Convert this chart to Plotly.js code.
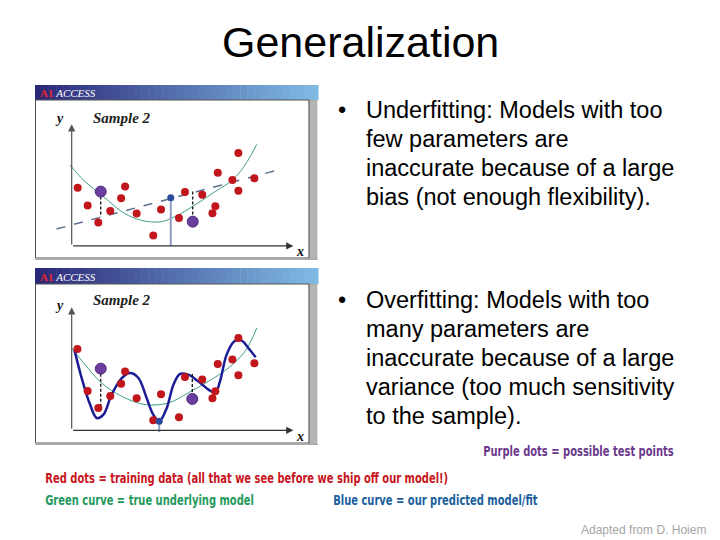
<!DOCTYPE html>
<html>
<head>
<meta charset="utf-8">
<script src="https://cdn.plot.ly/plotly-3.0.1.min.js"></script>
<style>html,body{margin:0;padding:0;background:#fff;}#chart{width:720px;height:540px;}</style>
</head>
<body>
<div id="chart"></div>
<script>
// ---------- DATA (axis units: origin = 0, arrow tips = 10) ----------
// Panel 1 (underfitting)
const p1RedX = [0.27, 0.72, 1.20, 1.74, 2.23, 2.41, 2.93, 3.68, 4.03, 4.84, 5.11, 5.89, 6.35, 6.48, 6.59, 7.25, 7.52, 7.52, 8.24];
const p1RedY = [4.79, 3.32, 1.92, 2.88, 3.92, 4.88, 2.66, 0.85, 2.99, 2.30, 4.44, 4.22, 2.68, 3.26, 6.03, 5.42, 7.64, 4.55, 5.56];
const p1PurpleX = [1.31, 5.46];
const p1PurpleY = [4.47, 2.00];
const p1BlueX = [4.47];
const p1BlueY = [3.97];
const p1GreenX = [-0.08, 0.60, 1.35, 2.26, 2.86, 3.46, 4.06, 4.66, 5.56, 6.47, 7.25, 7.82, 8.35];
const p1GreenY = [6.66, 5.29, 4.19, 2.82, 2.27, 2.00, 2.00, 2.41, 3.37, 4.47, 5.42, 6.66, 8.36];
const p1FitX = [-0.68, 9.32];
const p1FitY = [1.40, 6.25];
const p1ErrTop = [4.47, 4.47];
const p1ErrBottom = [2.41, 2.00];

// Panel 2 (overfitting)
const p2RedX = [0.26, 0.72, 1.20, 1.74, 2.23, 2.41, 2.93, 3.68, 4.03, 4.84, 5.11, 5.89, 6.35, 6.48, 6.59, 7.25, 7.52, 7.52, 8.24];
const p2RedY = [6.61, 3.20, 1.82, 2.79, 3.79, 4.77, 2.60, 0.81, 2.93, 1.06, 4.34, 4.12, 2.60, 3.17, 5.39, 5.75, 7.51, 4.47, 5.45];
const p2PurpleX = [1.31, 5.44];
const p2PurpleY = [5.01, 2.55];
const p2BlueX = [3.95];
const p2BlueY = [0.73];
const p2GreenX = [0.00, 0.60, 1.35, 2.26, 3.31, 4.36, 5.26, 6.17, 7.07, 7.82, 8.35];
const p2GreenY = [6.69, 5.34, 3.85, 2.76, 2.09, 2.22, 3.04, 3.98, 5.07, 6.42, 8.32];
const p2FitX = [0.12, 0.45, 0.83, 1.13, 1.43, 1.80, 2.26, 2.63, 3.01, 3.38, 3.68, 3.95, 4.29, 4.59, 4.89, 5.26, 5.71, 6.17, 6.47, 6.69, 6.99, 7.34, 7.67, 7.97, 8.30];
const p2FitY = [6.56, 4.25, 2.09, 1.00, 1.27, 2.90, 4.25, 4.66, 4.25, 2.63, 1.27, 0.73, 1.82, 3.71, 4.58, 4.53, 3.98, 3.31, 3.04, 3.98, 6.15, 7.24, 7.29, 6.69, 5.93];
const p2ErrTop = [5.01, 4.58];
const p2ErrBottom = [1.82, 2.55];

// Text
const slideTitle = "Generalization";
const underLines = ["Underfitting: Models with too", "few parameters are", "inaccurate because of a large", "bias (not enough flexibility)."];
const overLines = ["Overfitting: Models with too", "many parameters are", "inaccurate because of a large", "variance (too much sensitivity", "to the sample)."];
const purpleNote = "Purple dots = possible test points";
const redNote = "Red dots = training data (all that we see before we ship off our model!)";
const greenNote = "Green curve = true underlying model";
const blueNote = "Blue curve = our predicted model/fit";
const credit = "Adapted from D. Hoiem";
const panelLabel = "Sample 2";

// ---------- helpers ----------
const W = 720, H = 540;
const px = v => v / W;
const py = v => 1 - v / H;

const red = '#c0161c', purple = '#6a3d9e', blueDot = '#2b4b9b';

function panelTraces(xa, ya, d) {
  const t = [];
  t.push({x: d.gx, y: d.gy, xaxis: xa, yaxis: ya, mode: 'lines', line: {color: '#3f9f84', width: 1, shape: 'spline'}, hoverinfo: 'skip'});
  t.push({x: d.fx, y: d.fy, xaxis: xa, yaxis: ya, mode: 'lines', line: d.fitStyle, hoverinfo: 'skip'});
  t.push({x: [d.bx[0], d.bx[0]], y: [d.stemBottom, d.by[0]], xaxis: xa, yaxis: ya, mode: 'lines', line: {color: '#8e9cc4', width: 2}, hoverinfo: 'skip'});
  for (let i = 0; i < d.px.length; i++) {
    t.push({x: [d.px[i], d.px[i]], y: [d.et[i], d.eb[i]], xaxis: xa, yaxis: ya, mode: 'lines', line: {color: '#111', width: 1.3, dash: '3px,2px'}, hoverinfo: 'skip'});
  }
  t.push({x: d.rx, y: d.ry, xaxis: xa, yaxis: ya, mode: 'markers', marker: {color: red, size: 8, line: {width: 0}}, hoverinfo: 'skip'});
  t.push({x: d.px, y: d.py, xaxis: xa, yaxis: ya, mode: 'markers', marker: {color: purple, size: 11, line: {color: '#4b2a7a', width: 1}}, hoverinfo: 'skip'});
  t.push({x: d.bx, y: d.by, xaxis: xa, yaxis: ya, mode: 'markers', marker: {color: blueDot, size: 7}, hoverinfo: 'skip'});
  return t;
}

const traces = [].concat(
  panelTraces('x', 'y', {gx: p1GreenX, gy: p1GreenY, fx: p1FitX, fy: p1FitY,
    fitStyle: {color: '#5b6f8f', width: 1.5, dash: 'dash'},
    bx: p1BlueX, by: p1BlueY, stemBottom: 0, px: p1PurpleX, py: p1PurpleY,
    et: p1ErrTop, eb: p1ErrBottom, rx: p1RedX, ry: p1RedY}),
  panelTraces('x2', 'y2', {gx: p2GreenX, gy: p2GreenY, fx: p2FitX, fy: p2FitY,
    fitStyle: {color: '#1c1c96', width: 2.5, shape: 'spline'},
    bx: p2BlueX, by: p2BlueY, stemBottom: -0.15, px: p2PurpleX, py: p2PurpleY,
    et: p2ErrTop, eb: p2ErrBottom, rx: p2RedX, ry: p2RedY})
);

const hiddenAxis = (domain, range, anchor) => ({domain, range, anchor, visible: false, fixedrange: true});

const shapes = [];
const annotations = [];
const narrowIdx = [];

function txt(x, y, text, font, xanchor) {
  annotations.push({xref: 'paper', yref: 'paper', x: px(x), y: py(y), xanchor: xanchor || 'center', yanchor: 'middle',
    showarrow: false, text, font});
  return annotations.length - 1;
}

function panelFrame(top, bottom, headerBottom) {
  const n = 40, x0 = 35, x1 = 318;
  const c0 = [42, 40, 120], c1 = [128, 186, 228];
  for (let i = 0; i < n; i++) {
    const f = i / (n - 1);
    const c = c0.map((v, k) => Math.round(v + (c1[k] - v) * f));
    shapes.push({type: 'rect', xref: 'paper', yref: 'paper',
      x0: px(x0 + (x1 - x0) * i / n), x1: px(x0 + (x1 - x0) * (i + 1) / n + 0.5),
      y0: py(headerBottom), y1: py(top), fillcolor: `rgb(${c[0]},${c[1]},${c[2]})`, line: {width: 0}, layer: 'below'});
  }
  shapes.push({type: 'rect', xref: 'paper', yref: 'paper', x0: px(309), x1: px(317), y0: py(bottom + 1), y1: py(headerBottom),
    fillcolor: '#b5b5b5', line: {color: '#999', width: 0.5}, layer: 'below'});
  shapes.push({type: 'rect', xref: 'paper', yref: 'paper', x0: px(35.5), x1: px(309), y0: py(bottom), y1: py(headerBottom),
    fillcolor: 'rgba(0,0,0,0)', line: {color: '#555', width: 1}, layer: 'below'});
  shapes.push({type: 'line', xref: 'paper', yref: 'paper', x0: px(35), x1: px(318), y0: py(bottom + 1.5), y1: py(bottom + 1.5),
    line: {color: '#aaa', width: 1}});
  txt(38, (top + headerBottom) / 2 + 0.5, "<b><span style='color:#e8242a'>A1</span></b> <i>ACCESS</i>",
    {family: 'Liberation Serif, DejaVu Serif, serif', size: 11, color: '#ffffff'}, 'left');
}
panelFrame(85, 258, 100);
panelFrame(268, 443, 284);

const serif = 'Liberation Serif, DejaVu Serif, serif';
function axesArrows(xa, ya, yLabelPos, xLabelPos, samplePos) {
  annotations.push({xref: xa, yref: ya, axref: xa, ayref: ya, x: 10, y: 0, ax: 0, ay: 0, text: '', showarrow: true,
    arrowhead: 2, arrowsize: 1.2, arrowwidth: 1.2, arrowcolor: '#333'});
  annotations.push({xref: xa, yref: ya, axref: xa, ayref: ya, x: 0, y: 10, ax: 0, ay: 0, text: '', showarrow: true,
    arrowhead: 2, arrowsize: 1.2, arrowwidth: 1.2, arrowcolor: '#555'});
  txt(yLabelPos[0], yLabelPos[1], '<i><b>y</b></i>', {family: serif, size: 14, color: '#111'});
  txt(xLabelPos[0], xLabelPos[1], '<i><b>x</b></i>', {family: serif, size: 14, color: '#111'});
  txt(samplePos[0], samplePos[1], '<i><b>' + panelLabel + '</b></i>', {family: serif, size: 15, color: '#222'});
}
axesArrows('x', 'y', [59, 119], [300, 251], [122, 118]);
axesArrows('x2', 'y2', [59, 305], [300, 436], [122, 300]);

// Title
txt(360, 42, slideTitle, {family: 'Liberation Sans, Arial, sans-serif', size: 43, color: '#000'});

// bullets
const bulletFont = {family: 'Liberation Sans, Arial, sans-serif', size: 23.5, color: '#000'};
function bulletBlock(lines, firstY) {
  txt(342, firstY, '•', bulletFont);
  lines.forEach((s, i) => txt(364, firstY + 29 * i, s, bulletFont, 'left'));
}
bulletBlock(underLines, 110);
bulletBlock(overLines, 300);

// notes (condensed look)
const noteFamily = 'DejaVu Sans Condensed, Liberation Sans Narrow, sans-serif';
const note = (t, x, y, color) => narrowIdx.push(txt(x, y, '<b>' + t + '</b>', {family: noteFamily, size: 13.5, color}, 'left'));
note(purpleNote, 481, 451, '#6b3a8c');
note(redNote, 43, 478, '#c8141c');
note(greenNote, 43, 500, '#1f9a5c');
note(blueNote, 331, 500, '#1b5f9e');
txt(708, 530, credit, {family: 'Liberation Sans, Arial, sans-serif', size: 12, color: '#a6a6a6'}, 'right');

const layout = {
  width: W, height: H,
  margin: {l: 0, r: 0, t: 0, b: 0},
  paper_bgcolor: '#ffffff', plot_bgcolor: 'rgba(0,0,0,0)',
  showlegend: false,
  xaxis: hiddenAxis([px(36), px(308)], [-1.61, 10.66], 'y'),
  yaxis: hiddenAxis([py(258), py(101)], [-0.99, 11.92], 'x'),
  xaxis2: hiddenAxis([px(36), px(308)], [-1.61, 10.66], 'y2'),
  yaxis2: hiddenAxis([py(442), py(284)], [-0.95, 11.89], 'x2'),
  shapes, annotations
};

Plotly.newPlot('chart', traces, layout, {staticPlot: true, displayModeBar: false}).then(gd => {
  // horizontally condense the coloured notes (the original uses a condensed face)
  narrowIdx.forEach(i => {
    const g = gd.querySelector(`.annotation[data-index="${i}"] .annotation-text`);
    if (g) {
      g.style.transformBox = 'fill-box';
      g.style.transformOrigin = '0% 50%';
      g.style.transform = 'scaleX(0.82)';
    }
  });
});
</script>
</body>
</html>
